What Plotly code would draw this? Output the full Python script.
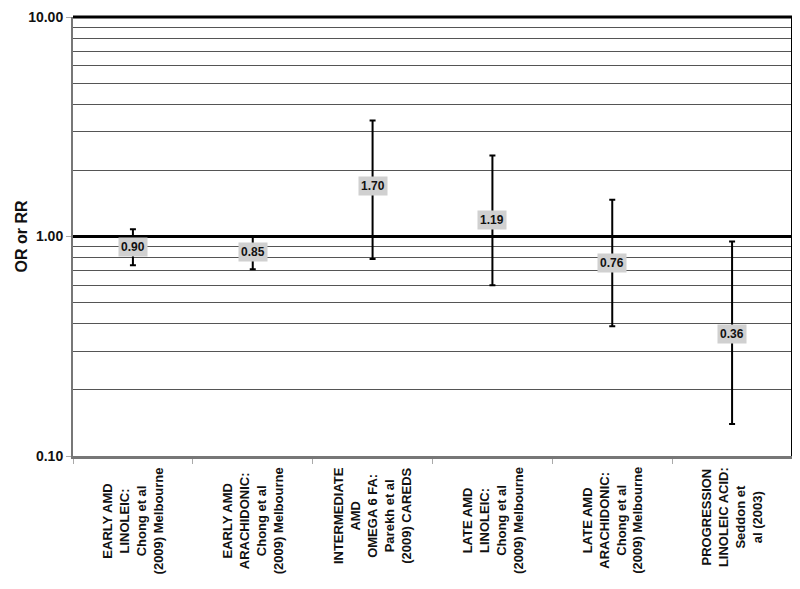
import math
import plotly.graph_objects as go

categories = [
    "EARLY AMD<br>LINOLEIC:<br>Chong et al<br>(2009) Melbourne",
    "EARLY AMD<br>ARACHIDONIC:<br>Chong et al<br>(2009) Melbourne",
    "INTERMEDIATE<br>AMD<br>OMEGA 6 FA:<br>Parekh et al<br>(2009) CAREDS",
    "LATE AMD<br>LINOLEIC:<br>Chong et al<br>(2009) Melbourne",
    "LATE AMD<br>ARACHIDONIC:<br>Chong et al<br>(2009) Melbourne",
    "PROGRESSION<br>LINOLEIC ACID:<br>Seddon et<br>al (2003)",
]
estimates = [0.90, 0.85, 1.70, 1.19, 0.76, 0.36]
ci_lower = [0.74, 0.71, 0.79, 0.60, 0.39, 0.14]
ci_upper = [1.08, 1.00, 3.38, 2.34, 1.47, 0.95]
y_ticks = [0.1, 1, 10]
y_ticktext = ["0.10", "1.00", "10.00"]
minor_grid = [0.2, 0.3, 0.4, 0.5, 0.6, 0.7, 0.8, 0.9, 2, 3, 4, 5, 6, 7, 8, 9]

xs = list(range(1, len(categories) + 1))
err_plus = [u - e for u, e in zip(ci_upper, estimates)]
err_minus = [e - l for e, l in zip(estimates, ci_lower)]

FONT = "Liberation Sans, Arial, sans-serif"

fig = go.Figure()
fig.add_trace(go.Scatter(
    x=xs, y=estimates, mode="markers",
    marker=dict(size=1, color="rgba(0,0,0,0)"),
    error_y=dict(type="data", symmetric=False, array=err_plus, arrayminus=err_minus,
                 color="black", thickness=2, width=3),
    showlegend=False, hoverinfo="skip",
))

annotations = []
for x, e in zip(xs, estimates):
    annotations.append(dict(
        x=x, y=math.log10(e), xref="x", yref="y", text=f"{e:.2f}", showarrow=False,
        bgcolor="#d0d0d0", borderpad=2,
        font=dict(family=FONT, size=12, color="#111", weight="bold"),
    ))
for x, c in zip(xs, categories):
    annotations.append(dict(
        x=x, y=0, xref="x", yref="paper", text=c, showarrow=False, textangle=-90,
        xanchor="center", yanchor="top", yshift=-9, align="center",
        font=dict(family=FONT, size=13, color="#111", weight="bold"),
    ))
annotations.append(dict(
    x=-0.071, y=0.5, xref="paper", yref="paper", text="OR or RR", showarrow=False,
    textangle=-90, xanchor="center", yanchor="middle",
    font=dict(family=FONT, size=16, color="#111", weight="bold"),
))

fig.update_layout(
    width=792, height=581,
    margin=dict(l=65, r=8, t=9, b=133),
    paper_bgcolor="white", plot_bgcolor="white",
    annotations=annotations,
    shapes=[
        dict(type="line", xref="paper", yref="paper", x0=1, x1=1, y0=0, y1=1,
             line=dict(color="black", width=2)),
        dict(type="line", xref="paper", yref="paper", x0=0, x1=1, y0=1, y1=1,
             line=dict(color="black", width=3)),
    ],
    xaxis=dict(range=[0.5, 6.5], tickmode="array", automargin=False,
               tickvals=[i + 0.5 for i in range(0, 7)], ticktext=[""] * 7,
               ticks="outside", ticklen=5, tickcolor="#aaa", tickwidth=1,
               showgrid=False, zeroline=False,
               showline=True, linecolor="#777", linewidth=3),
    yaxis=dict(type="log", range=[-1, 1], tickmode="array", automargin=False,
               tickvals=y_ticks, ticktext=y_ticktext, ticklabeloverflow="allow",
               ticks="outside", ticklen=5, tickcolor="#aaa", tickwidth=1,
               tickfont=dict(family=FONT, size=14, color="#111", weight="bold"),
               showgrid=True, gridcolor="black", gridwidth=3, zeroline=False,
               showline=True, linecolor="#777", linewidth=2,
               minor=dict(tickmode="array", tickvals=minor_grid, showgrid=True,
                          gridcolor="#555", gridwidth=1, ticks="")),
)

fig.write_html("out.html")
